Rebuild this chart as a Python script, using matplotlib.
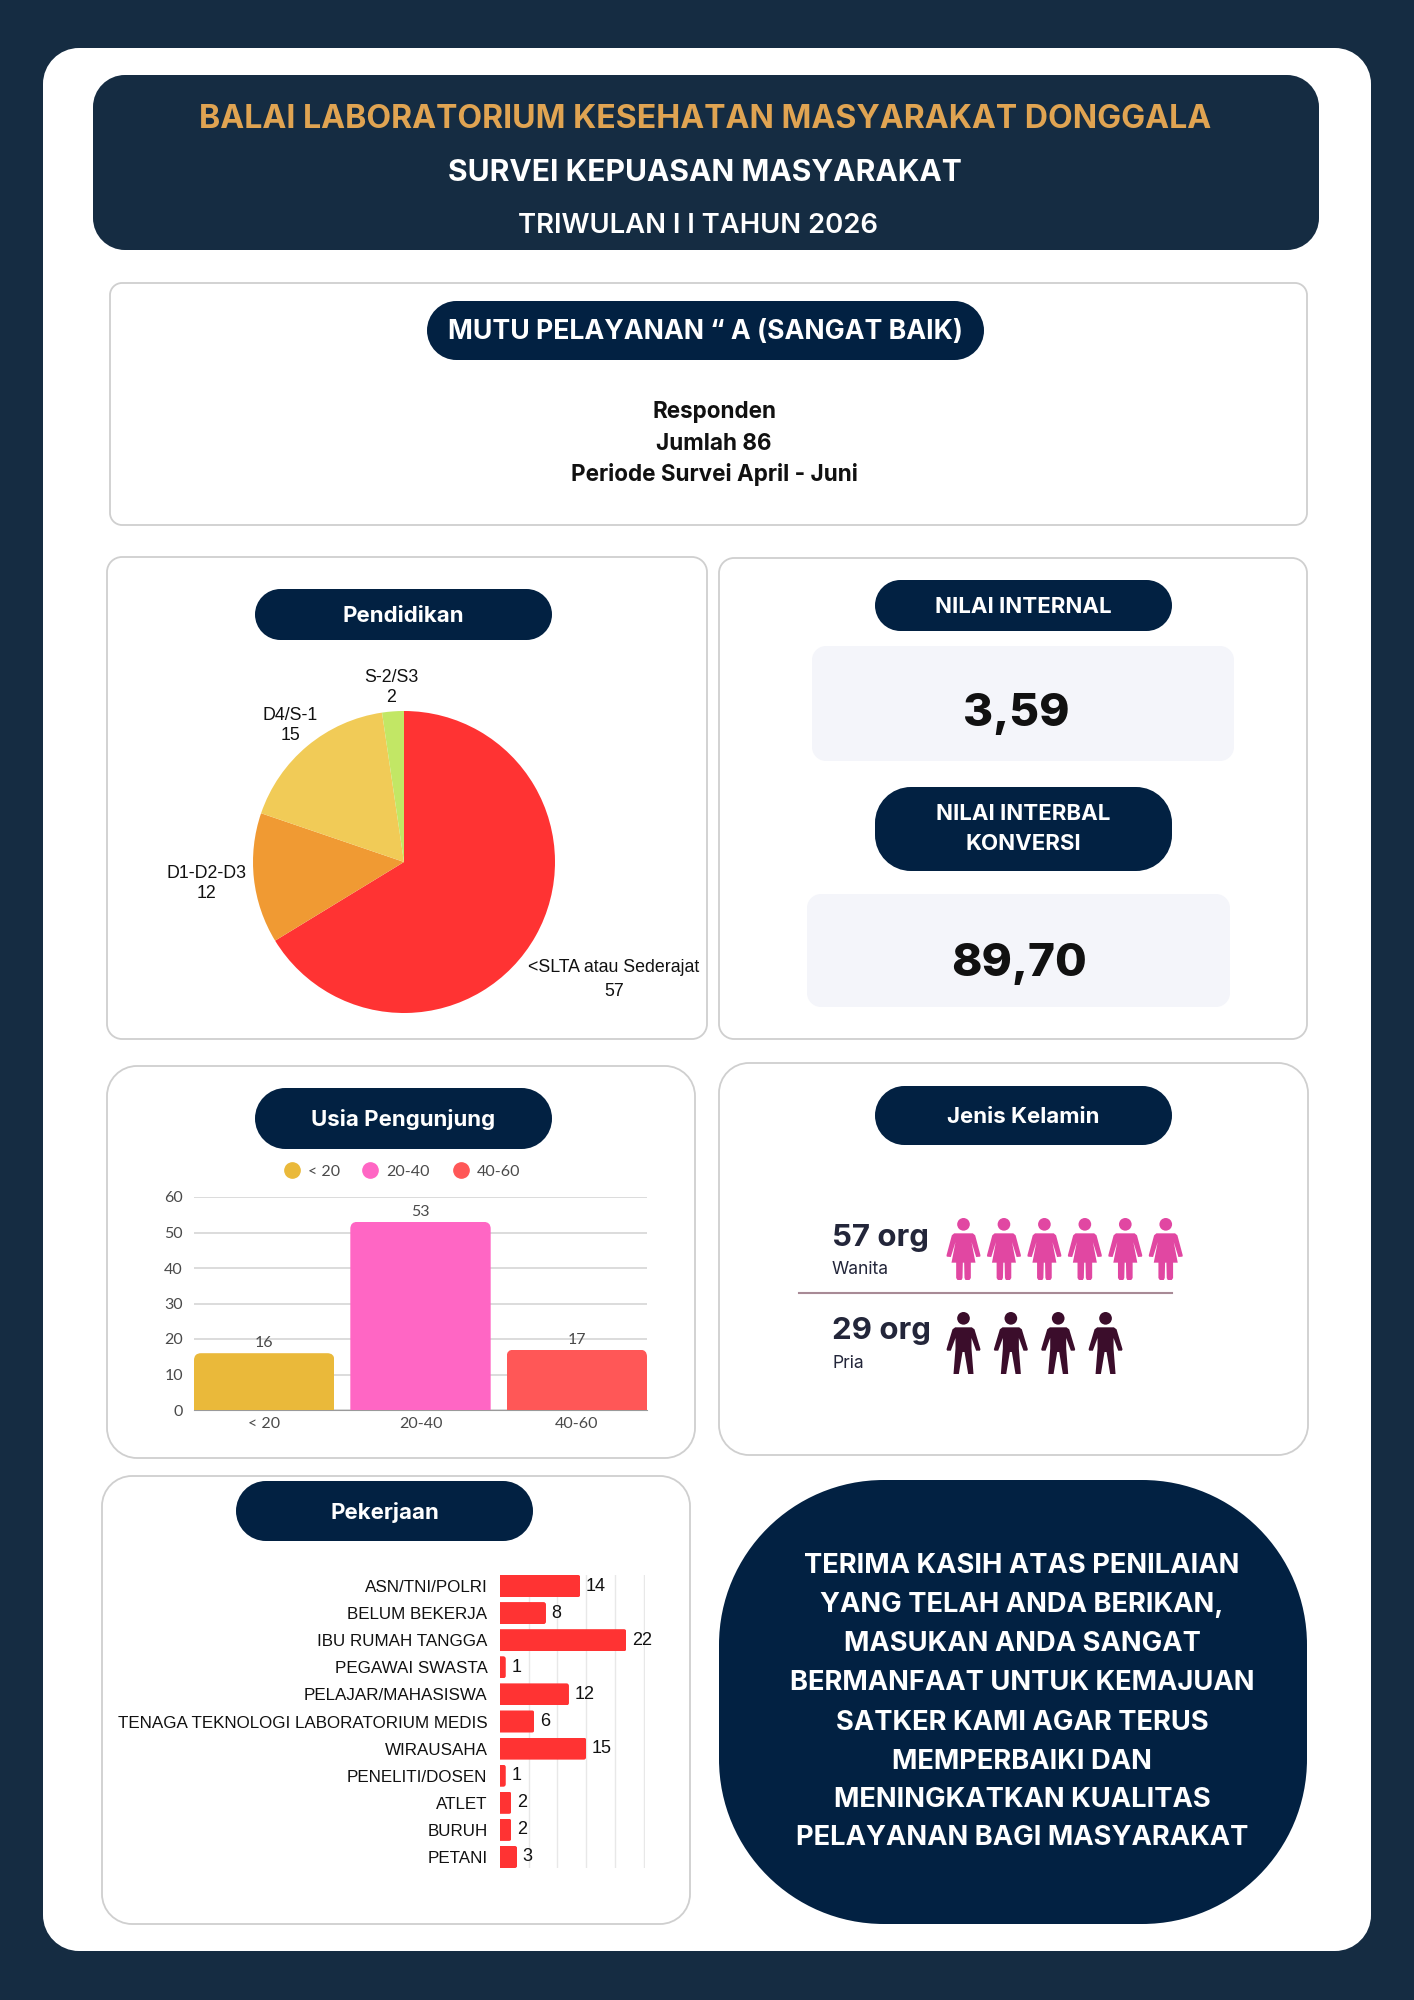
import numpy as np
import matplotlib
matplotlib.use("Agg")
import matplotlib.pyplot as plt
from matplotlib.patches import PathPatch, Polygon, Circle
from matplotlib.lines import Line2D
from matplotlib.path import Path

W, H = 1414, 2000
NAVY_BG = "#152C42"
NAVY = "#022142"
EDGE = "#CFCFCF"

edu_labels = ["<SLTA atau Sederajat", "D1-D2-D3", "D4/S-1", "S-2/S3"]
edu_values = [57, 12, 15, 2]
edu_colors = ["#FF3333", "#F09A33", "#F1CB57", "#C2E765"]

age_labels = ["< 20", "20-40", "40-60"]
age_values = [16, 53, 17]
age_colors = ["#EAB93A", "#FF66C4", "#FF5757"]

job_labels = ["ASN/TNI/POLRI", "BELUM BEKERJA", "IBU RUMAH TANGGA", "PEGAWAI SWASTA",
              "PELAJAR/MAHASISWA", "TENAGA TEKNOLOGI LABORATORIUM MEDIS", "WIRAUSAHA",
              "PENELITI/DOSEN", "ATLET", "BURUH", "PETANI"]
job_values = [14, 8, 22, 1, 12, 6, 15, 1, 2, 2, 3]

gender_labels = ["Wanita", "Pria"]
gender_counts = [57, 29]
gender_icons = [6, 4]

closing_lines = ["TERIMA KASIH ATAS PENILAIAN", "YANG TELAH ANDA BERIKAN,", "MASUKAN ANDA SANGAT",
                 "BERMANFAAT UNTUK KEMAJUAN", "SATKER KAMI AGAR TERUS", "MEMPERBAIKI DAN",
                 "MENINGKATKAN KUALITAS", "PELAYANAN BAGI MASYARAKAT"]

fig = plt.figure(figsize=(W / 100, H / 100), dpi=100, facecolor=NAVY_BG)
bg = fig.add_axes([0, 0, 1, 1])
bg.set_xlim(0, W)
bg.set_ylim(H, 0)
bg.axis("off")


def axes_px(x0, y0, x1, y1):
    return fig.add_axes([x0 / W, 1 - y1 / H, (x1 - x0) / W, (y1 - y0) / H], facecolor="none")


def rounded_path(x0, y0, x1, y1, r):
    k = r * 0.4477
    v = [(x0 + r, y0), (x1 - r, y0), (x1 - k, y0), (x1, y0 + k), (x1, y0 + r), (x1, y1 - r),
         (x1, y1 - k), (x1 - k, y1), (x1 - r, y1), (x0 + r, y1), (x0 + k, y1), (x0, y1 - k),
         (x0, y1 - r), (x0, y0 + r), (x0, y0 + k), (x0 + k, y0), (x0 + r, y0), (x0 + r, y0)]
    c = [Path.MOVETO, Path.LINETO, Path.CURVE4, Path.CURVE4, Path.CURVE4, Path.LINETO,
         Path.CURVE4, Path.CURVE4, Path.CURVE4, Path.LINETO, Path.CURVE4, Path.CURVE4, Path.CURVE4,
         Path.LINETO, Path.CURVE4, Path.CURVE4, Path.CURVE4, Path.CLOSEPOLY]
    return Path(v, c)


def box(x0, y0, x1, y1, r, fc="white", ec="none", lw=0.0):
    bg.add_patch(PathPatch(rounded_path(x0, y0, x1, y1, r), fc=fc, ec=ec, lw=lw))


def txt(x, y, s, size, weight="normal", color="black", family="Liberation Sans", ha="center", **kw):
    return bg.text(x, y, s, fontsize=size, fontweight=weight, color=color, family=family,
                   ha=ha, va="center", **kw)


box(43, 48, 1371, 1951, 36)
box(93, 75, 1319, 250, 32, fc=NAVY_BG)
txt(705, 119, "BALAI LABORATORIUM KESEHATAN MASYARAKAT DONGGALA", 23.1, "bold", "#E0A452", "Inter")
txt(705, 173, "SURVEI KEPUASAN MASYARAKAT", 21.6, "bold", "white", "Inter")
txt(698, 226, "TRIWULAN I I TAHUN 2026", 19.8, "semibold", "white", "Inter")

box(110, 283, 1307, 525, 12, ec=EDGE, lw=1.3)
box(427, 301, 984, 360, 29.5, fc=NAVY)
txt(705, 332, "MUTU PELAYANAN “ A (SANGAT BAIK)", 19.2, "bold", "white", "Inter")
for yy, s in zip([412, 444, 475], ["Responden", "Jumlah 86", "Periode Survei April - Juni"]):
    txt(714, yy, s, 16.2, "bold", "#111111", "Inter")

# Section cards
box(107, 557, 707, 1039, 15, ec=EDGE, lw=1.3)
box(719, 558, 1307, 1039, 15, ec=EDGE, lw=1.3)
box(107, 1066, 695, 1458, 30, ec=EDGE, lw=1.3)
box(719, 1063, 1308, 1455, 30, ec=EDGE, lw=1.3)
box(102, 1476, 690, 1924, 30, ec=EDGE, lw=1.3)

for (x0, y0, x1, y1, s) in [(255, 589, 552, 640, "Pendidikan"), (255, 1088, 552, 1149, "Usia Pengunjung"),
                            (236, 1481, 533, 1541, "Pekerjaan"), (875, 580, 1172, 631, "NILAI INTERNAL"),
                            (875, 1086, 1172, 1145, "Jenis Kelamin")]:
    box(x0, y0, x1, y1, (y1 - y0) / 2, fc=NAVY)
    txt((x0 + x1) / 2, (y0 + y1) / 2 + 1.5, s, 16.0, "bold", "white", "Inter")
box(875, 787, 1172, 871, 36, fc=NAVY)
txt(1023, 814, "NILAI INTERBAL", 16.0, "bold", "white", "Inter")
txt(1023, 844, "KONVERSI", 16.0, "bold", "white", "Inter")
box(812, 646, 1234, 761, 14, fc="#F4F5FA")
box(807, 894, 1230, 1007, 14, fc="#F4F5FA")
txt(1016, 714, "3,59", 33, "heavy", "#111111", "Inter")
txt(1019, 964, "89,70", 33, "heavy", "#111111", "Inter")

# Pie
ax = axes_px(253, 711, 555, 1013)
ax.pie(edu_values, colors=edu_colors, startangle=90, counterclock=False, radius=1.0)
ax.set_xlim(-1, 1)
ax.set_ylim(-1, 1)
for (xc, y1, y2), lab, v in zip([(614, 968, 992), (206, 873, 893), (290, 716, 736), (391, 677, 697)],
                                edu_labels, edu_values):
    txt(xc, y1, lab, 12.8, color="#111111")
    txt(xc, y2, str(v), 12.8, color="#111111")


def round_bar_clip(bar, ax, r_x, r_y, horizontal=False):
    x0, y0, w, h = bar.get_x(), bar.get_y(), bar.get_width(), bar.get_height()
    if horizontal:
        e = x0 + w
        v = [(x0, y0), (e - r_x, y0), (e, y0), (e, y0 + r_y), (e, y0 + h - r_y), (e, y0 + h), (e - r_x, y0 + h), (x0, y0 + h), (x0, y0)]
    else:
        e = y0 + h
        v = [(x0, y0), (x0, e - r_y), (x0, e), (x0 + r_x, e), (x0 + w - r_x, e), (x0 + w, e), (x0 + w, e - r_y), (x0 + w, y0), (x0, y0)]
    c = [Path.MOVETO, Path.LINETO, Path.CURVE3, Path.CURVE3, Path.LINETO, Path.CURVE3, Path.CURVE3, Path.LINETO, Path.CLOSEPOLY]
    bar.set_clip_path(Path(v, c), ax.transData)


# Age bars
ax = axes_px(194, 1197, 647, 1410)
xs = np.arange(len(age_values))
bars = ax.bar(xs, age_values, width=0.898, color=age_colors, zorder=3)
ax.set_xlim(-0.449, 2.449)
ax.set_ylim(0, 60)
ax.set_yticks(range(0, 61, 10))
ax.set_xticks(xs, age_labels)
ax.grid(axis="y", color="#D6D6D6", lw=1.2, zorder=0)
ax.tick_params(length=0, labelsize=11.5, labelcolor="#4A4A4A", labelfontfamily="Lato")
ax.tick_params(axis="y", pad=8)
ax.tick_params(axis="x", pad=5)
for side in ["top", "left", "right"]:
    ax.spines[side].set_visible(False)
ax.spines["bottom"].set_color("#9A9A9A")
ax.set_axisbelow(True)
for b in bars:
    round_bar_clip(b, ax, 7 / 156.5, 7 / 3.55)
ax.bar_label(bars, padding=2, fontsize=11.5, color="#4A4A4A", family="Lato")
handles = [Line2D([], [], marker="o", ls="none", ms=11, color=c) for c in age_colors]
ax.legend(handles, age_labels, loc="center", bbox_to_anchor=(0.459, 1.118), ncol=3, frameon=False,
          handlelength=1, handletextpad=0.5, columnspacing=1.42,
          prop={"family": "Lato", "size": 11.5}, labelcolor="#4A4A4A")

# Jobs
ax = axes_px(500, 1575, 645, 1868)
ypos = np.arange(len(job_values))
jbars = ax.barh(ypos, job_values, height=0.813, color="#FF3333", zorder=3)
ax.set_xlim(0, 25.23)
ax.set_ylim(10.406, -0.406)
ax.set_xticks(range(5, 26, 5), [""] * 5)
ax.set_yticks(ypos, job_labels)
ax.grid(axis="x", color="#E8E8E8", lw=1.0, zorder=0)
ax.tick_params(length=0, labelsize=12.25, labelcolor="#111111", labelfontfamily="Liberation Sans", pad=9)
for s in ax.spines.values():
    s.set_visible(False)
for b in jbars:
    round_bar_clip(b, ax, 2.5 / 5.74, 2.5 / 27.07, horizontal=True)
ax.bar_label(jbars, padding=4, fontsize=13, color="#111111", family="Liberation Sans", clip_on=False)

# Gender pictograms
U = 1 / 3
WOMAN = [(0, 46), (28, 46), (35, 52), (51, 112), (50, 116), (38, 117), (24, 72), (36, 134), (22, 134), (22, 180),
         (18, 186), (6, 186), (3, 180), (2, 134), (0, 134)]
MAN = [(0, 46), (25, 46), (33, 52), (51, 112), (49, 116), (38, 116), (24, 78), (24, 110), (30, 186), (14, 186),
       (3, 120), (0, 120)]


def person(cx, top, shape, color):
    pts = shape + [(-a, b) for a, b in reversed(shape)]
    bg.add_patch(Polygon([(cx + a * U, top + b * U) for a, b in pts], closed=True, fc=color, ec="none"))
    bg.add_patch(Circle((cx, top + 19 * U), 19 * U, fc=color, ec="none"))


for (n, top, dx, shape, col) in [(gender_icons[0], 1218, 40.45, WOMAN, "#E147A2"),
                                 (gender_icons[1], 1312, 47.35, MAN, "#3B0D2B")]:
    for i in range(n):
        person(963.5 + i * dx, top, shape, col)
bg.plot([799, 1172], [1293, 1293], color="#A88A96", lw=1.5)
txt(832, 1238, f"{gender_counts[0]} org", 22.5, "bold", "#23263A", "Inter", ha="left")
txt(832, 1270, gender_labels[0], 12.6, "normal", "#23263A", "Inter", ha="left")
txt(832, 1331, f"{gender_counts[1]} org", 22.5, "bold", "#23263A", "Inter", ha="left")
txt(832, 1363, gender_labels[1], 12.6, "normal", "#23263A", "Inter", ha="left")

# Closing
box(719, 1480, 1307, 1924, 165, fc=NAVY)
for yy, s in zip([1566, 1605, 1644, 1683, 1723, 1762, 1800, 1838], closing_lines):
    txt(1022, yy, s, 19.7, "bold", "white", "Inter")

fig.savefig("out.png", dpi=100, facecolor=fig.get_facecolor())
